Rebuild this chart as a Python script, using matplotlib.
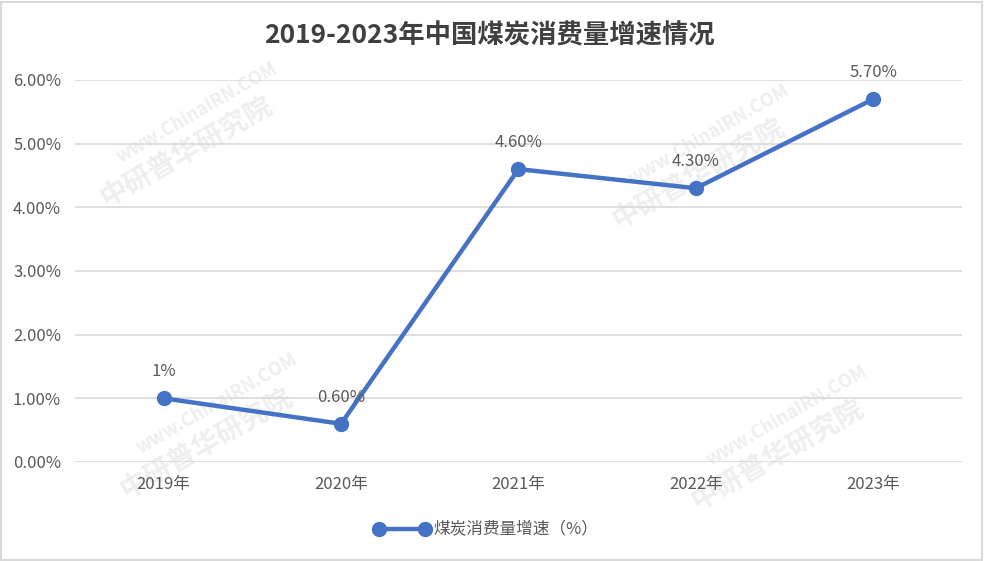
import matplotlib
matplotlib.use('Agg')
from matplotlib import pyplot as plt
from matplotlib.patches import Rectangle

plt.rcParams['font.family'] = ['Noto Sans CJK SC', 'DejaVu Sans']

years = ['2019年', '2020年', '2021年', '2022年', '2023年']
growth = [1.0, 0.6, 4.6, 4.3, 5.7]
point_labels = ['1%', '0.60%', '4.60%', '4.30%', '5.70%']
yticks = [0, 1, 2, 3, 4, 5, 6]
series_name = '煤炭消费量增速（%）'
title = '2019-2023年中国煤炭消费量增速情况'

blue = '#4472C4'
text_color = '#595959'
grid_color = '#D9D9D9'

fig = plt.figure(figsize=(9.84, 5.61), dpi=100)
ax = fig.add_axes([0.0762, 0.1765, 0.9014, 0.6809])
ax.set_zorder(2)

# faint watermarks, kept behind the plot
for wx, wy in [(0.20, 0.76), (0.72, 0.72), (0.22, 0.24), (0.80, 0.22)]:
    fig.text(wx, wy + 0.04, 'www.ChinaIRN.COM', color='#EEEEEE', fontsize=13,
             fontweight='bold', rotation=30, ha='center', va='center', zorder=0)
    fig.text(wx - 0.01, wy - 0.03, '中研普华研究院', color='#EEEEEE', fontsize=20,
             fontweight='bold', rotation=30, ha='center', va='center', zorder=0)

x = list(range(len(years)))
ax.plot(x, growth, color=blue, lw=3.2, marker='o', markersize=10, zorder=3)
for xi, yi, lab in zip(x, growth, point_labels):
    ax.annotate(lab, (xi, yi), xytext=(0, 13), textcoords='offset points',
                ha='center', va='bottom', fontsize=12, color=text_color)

ax.set_xlim(-0.5, len(years) - 0.5)
ax.set_ylim(0, 6)
ax.set_yticks(yticks)
ax.set_yticklabels([f'{v:.2f}%' for v in yticks])
ax.set_xticks(x)
ax.set_xticklabels(years)
ax.tick_params(length=0, labelsize=12, labelcolor=text_color)
ax.tick_params(axis='x', pad=10)
ax.tick_params(axis='y', pad=10)
ax.grid(axis='y', color=grid_color, lw=1.2)
ax.set_axisbelow(True)
for s in ax.spines.values():
    s.set_visible(False)
ax.patch.set_alpha(0)

fig.text(0.497, 0.935, title, ha='center', va='center', fontsize=19,
         fontweight='bold', color='#404040')

leg = fig.legend([ax.lines[0]], [series_name], loc='center', bbox_to_anchor=(0.494, 0.055),
                 frameon=False, fontsize=12, numpoints=2, handlelength=3.4, handletextpad=0.2)
for t in leg.get_texts():
    t.set_color(text_color)

fig.patches.append(Rectangle((0.001, 0.001), 0.997, 0.996, transform=fig.transFigure,
                             fill=False, edgecolor=grid_color, lw=1.5))

fig.savefig('out.png', dpi=100)
